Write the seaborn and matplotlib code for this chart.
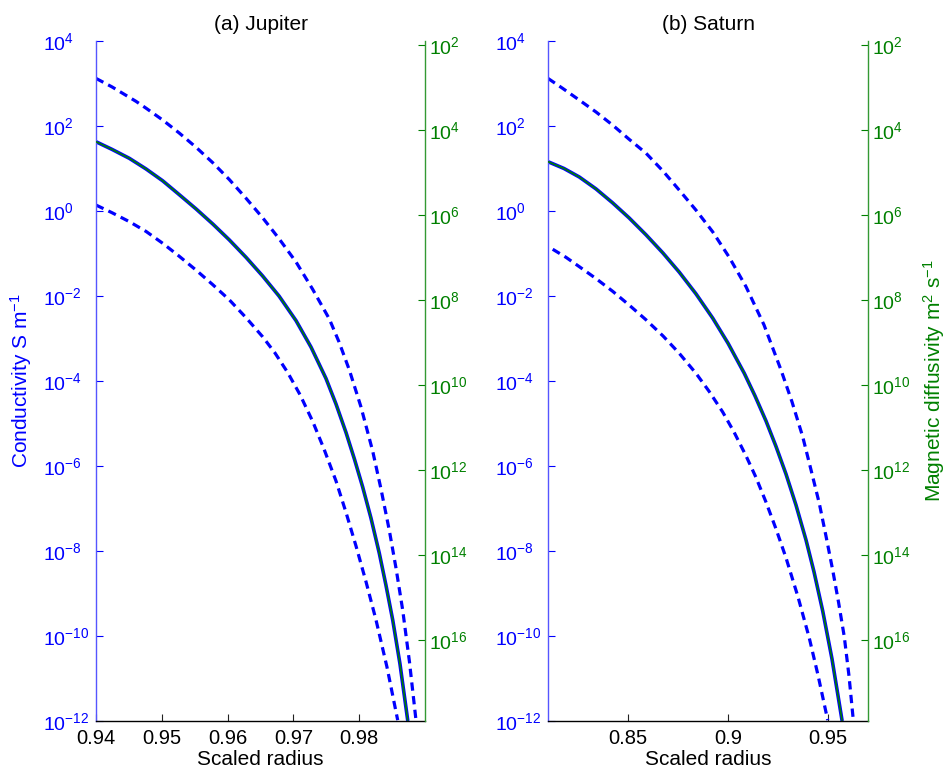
import numpy as np
import matplotlib
matplotlib.use("Agg")
import matplotlib.pyplot as plt
import seaborn as sns
from matplotlib.ticker import FixedLocator, NullLocator, LogFormatterSciNotation

sns.set_theme(style="white")
plt.rcParams['font.family'] = ['Liberation Sans', 'DejaVu Sans']
plt.rcParams['mathtext.fontset'] = 'custom'
plt.rcParams['mathtext.rm'] = 'Liberation Sans'
plt.rcParams['mathtext.it'] = 'Liberation Sans'
plt.rcParams['mathtext.default'] = 'regular'

MU0 = 4e-7 * np.pi

# ---- data: scaled radius and log10 conductivity (S/m) ----
jup_r_mid = [0.9400, 0.94243, 0.94506, 0.94760, 0.95014, 0.95261, 0.95520, 0.95778, 0.96026, 0.96280,
             0.96533, 0.96781, 0.97040, 0.97267, 0.97495, 0.97647, 0.97799, 0.97928, 0.98052, 0.98178,
             0.98305, 0.98406, 0.98509, 0.98619, 0.98737]
jup_log_mid = [1.63, 1.45, 1.24, 0.99, 0.71, 0.39, 0.05, -0.31, -0.68, -1.09,
               -1.53, -2.00, -2.58, -3.20, -3.94, -4.54, -5.21, -5.84, -6.49, -7.22,
               -8.05, -8.80, -9.62, -10.65, -11.98]

jup_r_hi = [0.9400, 0.94243, 0.94608, 0.94760, 0.95014, 0.95261, 0.95520, 0.95772, 0.96026, 0.96280,
            0.96533, 0.96781, 0.97040, 0.97292, 0.97546, 0.97693, 0.97850, 0.98027, 0.98205, 0.98331,
            0.98457, 0.98559, 0.98661, 0.98764, 0.98863]
jup_log_hi = [3.12, 2.92, 2.58, 2.42, 2.14, 1.84, 1.50, 1.14, 0.74, 0.30,
              -0.16, -0.65, -1.20, -1.84, -2.54, -3.08, -3.74, -4.61, -5.65, -6.54,
              -7.51, -8.40, -9.39, -10.61, -11.98]

jup_r_lo = [0.9400, 0.94243, 0.94506, 0.94760, 0.95014, 0.95261, 0.95520, 0.95772, 0.96026, 0.96280,
            0.96533, 0.96720, 0.96913, 0.97100, 0.97293, 0.97465, 0.97647, 0.97799, 0.97951, 0.98103,
            0.98255, 0.98422, 0.98585]
jup_log_lo = [0.14, -0.04, -0.25, -0.48, -0.76, -1.06, -1.39, -1.73, -2.09, -2.51,
              -2.96, -3.34, -3.80, -4.32, -4.95, -5.60, -6.35, -7.09, -7.88, -8.72,
              -9.62, -10.73, -11.98]

sat_r_mid = [0.8100, 0.8180, 0.82565, 0.8340, 0.84235, 0.8505, 0.8590, 0.8675, 0.87565, 0.8840,
             0.89235, 0.9000, 0.90815, 0.9135, 0.9190, 0.9240, 0.9290, 0.9340, 0.9390, 0.9430,
             0.94735, 0.9520, 0.9570]
sat_log_mid = [1.16, 1.00, 0.80, 0.52, 0.19, -0.16, -0.56, -0.99, -1.44, -1.95,
               -2.52, -3.11, -3.82, -4.35, -4.94, -5.54, -6.19, -6.92, -7.74, -8.49,
               -9.41, -10.54, -11.98]

sat_r_hi = [0.8100, 0.8175, 0.82565, 0.8340, 0.84235, 0.8505, 0.8590, 0.8675, 0.87565, 0.8840,
            0.89235, 0.9005, 0.9090, 0.9180, 0.92650, 0.9320, 0.93735, 0.9415, 0.94565, 0.9490,
            0.95235, 0.95525, 0.95815, 0.9605, 0.96265]
sat_log_hi = [3.12, 2.88, 2.61, 2.33, 2.02, 1.69, 1.36, 0.94, 0.49, 0.02,
              -0.49, -1.08, -1.78, -2.68, -3.74, -4.49, -5.31, -6.09, -6.88, -7.65,
              -8.45, -9.20, -10.02, -10.94, -11.98]

sat_r_lo = [0.81235, 0.8190, 0.82565, 0.8340, 0.84235, 0.8505, 0.8590, 0.8675, 0.87565, 0.8840,
            0.8905, 0.89735, 0.9030, 0.9090, 0.9140, 0.9190, 0.9240, 0.9290, 0.9350, 0.94065,
            0.9450, 0.94985]
sat_log_lo = [-0.90, -1.09, -1.31, -1.59, -1.89, -2.21, -2.56, -2.94, -3.35, -3.82,
              -4.24, -4.73, -5.20, -5.76, -6.27, -6.85, -7.48, -8.16, -9.08, -10.05,
              -10.92, -11.98]

panels = [
    dict(title="(a) Jupiter", xlim=(0.94, 0.99), xticks=[0.94, 0.95, 0.96, 0.97, 0.98],
         xticklabels=["0.94", "0.95", "0.96", "0.97", "0.98"],
         mid=(jup_r_mid, jup_log_mid), hi=(jup_r_hi, jup_log_hi), lo=(jup_r_lo, jup_log_lo),
         rect=[96/948, 1-721/775, 329/948, 680/775]),
    dict(title="(b) Saturn", xlim=(0.81, 0.97), xticks=[0.85, 0.90, 0.95],
         xticklabels=["0.85", "0.9", "0.95"],
         mid=(sat_r_mid, sat_log_mid), hi=(sat_r_hi, sat_log_hi), lo=(sat_r_lo, sat_log_lo),
         rect=[548/948, 1-721/775, 320/948, 680/775]),
]

BLUE = '#0000FF'
GREEN = '#008000'
ytick_vals = [10.0**k for k in range(-12, 5, 2)]
eta_ticks = [10.0**k for k in range(2, 17, 2)]

fig = plt.figure(figsize=(9.48, 7.75), dpi=100)
fmt = LogFormatterSciNotation()

for i, p in enumerate(panels):
    ax = fig.add_axes(p['rect'])
    tw = ax.twinx()
    for key in ('hi', 'lo', 'mid'):
        r, lg = p[key]
        sig = 10.0 ** np.array(lg)
        if key == 'mid':
            sns.lineplot(x=r, y=sig, ax=ax, color=BLUE, lw=2.6, estimator=None, sort=False)
            sns.lineplot(x=r, y=1.0 / (MU0 * sig), ax=tw, color=GREEN, lw=1.2,
                         estimator=None, sort=False)
        else:
            sns.lineplot(x=r, y=sig, ax=ax, color=BLUE, lw=2.3,
                         linestyle=(0, (2.6, 1.7)), estimator=None, sort=False)
    ax.set_yscale('log')
    ax.set_ylim(1e-12, 1e4)
    ax.set_xlim(*p['xlim'])
    tw.set_yscale('log')
    tw.set_ylim(1.0 / (MU0 * 1e-12), 1.0 / (MU0 * 1e4))
    tw.set_xlim(*p['xlim'])

    ax.yaxis.set_major_locator(FixedLocator(ytick_vals))
    ax.yaxis.set_minor_locator(NullLocator())
    ax.yaxis.set_major_formatter(fmt)
    tw.yaxis.set_major_locator(FixedLocator(eta_ticks))
    tw.yaxis.set_minor_locator(NullLocator())
    tw.yaxis.set_major_formatter(fmt)
    ax.set_xticks(p['xticks'])
    ax.set_xticklabels(p['xticklabels'])

    ax.tick_params(axis='y', which='major', direction='in', length=5, width=0.8,
                   colors=BLUE, labelsize=14, pad=38, left=True)
    tw.tick_params(axis='y', which='major', direction='in', length=5, width=0.8,
                   colors=GREEN, labelsize=14, pad=3, right=True)
    ax.tick_params(axis='x', direction='in', length=5, width=0.8, colors='#222222',
                   labelsize=14.5, labelcolor='black', pad=6, bottom=True)
    for lbl in ax.get_yticklabels():
        lbl.set_horizontalalignment('left')

    for a in (ax, tw):
        a.spines['top'].set_visible(False)
        a.grid(False)
    ax.spines['right'].set_visible(False)
    tw.spines['left'].set_visible(False)
    tw.spines['bottom'].set_visible(False)
    ax.spines['left'].set_color('#5555FF')
    ax.spines['left'].set_linewidth(1.0)
    tw.spines['right'].set_color('#339933')
    tw.spines['right'].set_linewidth(1.0)
    ax.spines['bottom'].set_color('black')
    ax.spines['bottom'].set_linewidth(1.0)
    ax.set_ylabel('')
    tw.set_ylabel('')

    ax.set_title(p['title'], fontsize=15, color='black', pad=8)
    ax.set_xlabel('Scaled radius', fontsize=15, color='black', labelpad=1)
    if i == 0:
        ax.set_ylabel('Conductivity S m$^{-1}$', fontsize=15, color=BLUE, labelpad=0)
        ax.yaxis.set_label_coords(-0.188, 0.5)
    else:
        tw.set_ylabel('Magnetic diffusivity m$^{2}$ s$^{-1}$', fontsize=15, color=GREEN)
        tw.yaxis.set_label_coords(1.166, 0.5)

fig.savefig('out.png', dpi=100, facecolor='white')
